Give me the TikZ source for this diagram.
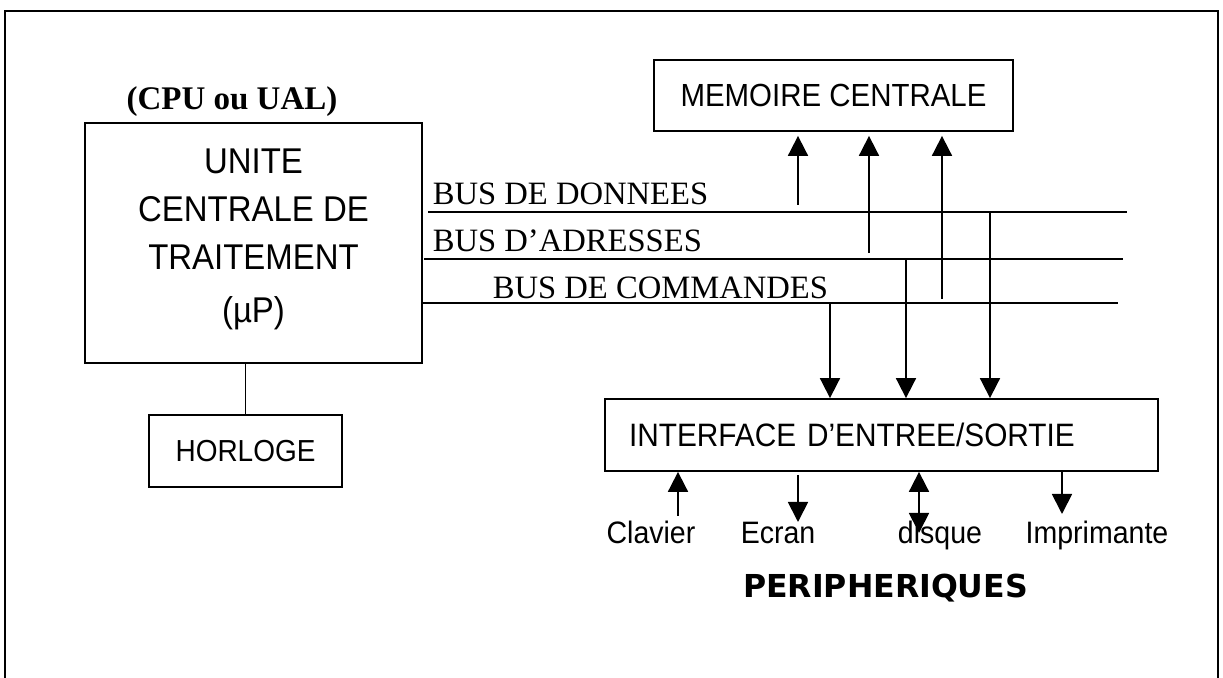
\documentclass[tikz,border=0pt]{standalone}
\usepackage{fontspec}
\setmainfont{Liberation Serif}
\setsansfont[FakeStretch=0.92]{Liberation Sans}
\newfontfamily\titlefont{DejaVu Sans}
\usetikzlibrary{positioning, arrows.meta}

\begin{document}
\begin{tikzpicture}[x=0.5pt, y=-0.5pt, line width=0.9pt,
    box/.style={draw, inner sep=0pt, font=\sffamily\fontsize{16}{19}\selectfont},
    tip/.tip={Triangle[length=10pt, width=10pt]},
    arr/.style={-tip},
    busname/.style={anchor=base west, inner sep=0pt, font=\fontsize{16.3}{18}\selectfont},
    device/.style={anchor=base, inner sep=0pt, font=\sffamily\fontsize{15.5}{18}\selectfont}]
    \useasboundingbox (0,0) rectangle (1223,678);
    % Frame
    \draw (5,678) -- (5,11) -- (1218,11) -- (1218,678);

    % Processor and clock
    \node (cpu) [box, minimum width=168.5pt, minimum height=120pt, align=center,
        font=\sffamily\fontsize{17.9}{24}\selectfont] at (253.5,243)
        {UNITE\\CENTRALE DE\\TRAITEMENT\\[2.5pt](µP)\rule[-7pt]{0pt}{0pt}};
    \node (cpuname) [anchor=base, inner sep=0pt, font=\bfseries\fontsize{16.5}{18}\selectfont]
        at (232,110) {(CPU ou UAL)};
    \node (clk) [box, minimum width=96.5pt, minimum height=36pt, font=\sffamily\fontsize{15.2}{17}\selectfont]
        at (245.5,451) {HORLOGE};
    \draw (clk.north) -- (clk.north |- cpu.south);

    % Memory and I/O
    \node (mem) [box, minimum width=179.5pt, minimum height=35.5pt] at (833.5,95.5) {MEMOIRE CENTRALE};
    \node (io) [box, minimum height=36pt, text width=252.5pt, inner xsep=12pt, align=left,
        font=\sffamily\fontsize{16.2}{19}\selectfont] at (881.5,435) {INTERFACE D’ENTREE/SORTIE};

    % Buses
    \coordinate (data0) at (428,212);
    \coordinate (data1) at (1127,212);
    \coordinate (addr0) at (424,259);
    \coordinate (addr1) at (1123,259);
    \coordinate (cmd0) at (cpu.east |- 0,303);
    \coordinate (cmd1) at (1118,303);
    \draw (data0) -- (data1);
    \draw (addr0) -- (addr1);
    \draw (cmd0) -- (cmd1);
    \node (datalbl) [busname] at (432,205) {BUS DE DONNEES};
    \node (addrlbl) [busname] at (432,252) {BUS D’ADRESSES};
    \node (cmdlbl) [busname] at (492,299) {BUS DE COMMANDES};

    % Bus to memory / bus to I/O
    \foreach \x/\y [count=\i] in {798/205, 869/253, 942/299} {
        \coordinate (up\i) at (\x,\y);
        \draw[arr, shorten >=2pt] (up\i) -- (up\i |- mem.south);
    }
    \foreach \x/\y [count=\i] in {830/303, 906/259, 990/212} {
        \coordinate (dn\i) at (\x,\y);
        \draw[arr] (dn\i) -- (dn\i |- io.north);
    }

    % Peripherals
    \node (kbd) [device] at (651,544) {Clavier};
    \node (scr) [device] at (778,544) {Ecran};
    \node (dsk) [device] at (940,544) {disque};
    \node (prn) [device] at (1097,544) {Imprimante};
    \node (periphs) [anchor=base, inner sep=0pt, font=\titlefont\bfseries\fontsize{15.8}{18}\selectfont]
        at (885.5,598) {PERIPHERIQUES};
    \coordinate (kbdend) at (678,516);
    \coordinate (scrtop) at (798,475);
    \coordinate (scrend) at (798,522);
    \coordinate (dskend) at (919,533);
    \coordinate (prnend) at (1062,514);
    \draw[arr] (kbdend) -- (kbdend |- io.south);
    \draw[arr] (scrtop) -- (scrend);
    \draw[tip-tip] (dskend |- io.south) -- (dskend);
    \draw[arr] (prnend |- io.south) -- (prnend);
\end{tikzpicture}
\end{document}
